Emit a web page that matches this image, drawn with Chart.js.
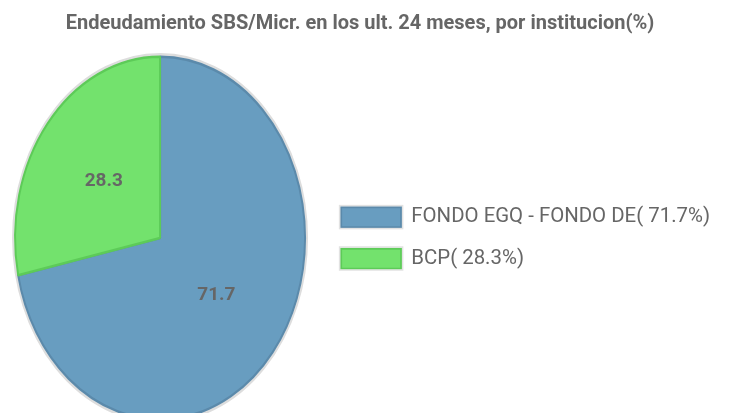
<!DOCTYPE html>
<html>
<head>
<meta charset="utf-8">
<script src="https://cdn.jsdelivr.net/npm/chart.js@4/dist/chart.umd.min.js"></script>
<style>
  html, body { margin: 0; padding: 0; background: #fff; }
  #wrap { width: 729px; height: 413px; position: relative; }
</style>
</head>
<body>
<div id="wrap"><canvas id="chart"></canvas></div>
<script>
const titleText = 'Endeudamiento SBS/Micr. en los ult. 24 meses, por institucion(%)';
const labels = ['FONDO EGQ - FONDO DE', 'BCP'];
const values = [71.7, 28.3];

const fillColors = ['#689dc0', '#73e26d'];
const lineColors = ['#5b8aab', '#5dcb58'];
const textColor = '#666666';
const stretchY = 1.25; // the pie in the picture is an upright ellipse

Chart.defaults.font.family = 'Roboto';

// squash the round pie into an ellipse and write the values on the slices
const ellipsePie = {
	id: 'ellipsePie',
	beforeDatasetsDraw(chart) {
		const arc = chart.getDatasetMeta(0).data[0];
		const ctx = chart.ctx;
		ctx.save();
		ctx.translate(arc.x, arc.y);
		ctx.scale(1, stretchY);
		ctx.translate(-arc.x, -arc.y);
		ctx.beginPath();
		ctx.arc(arc.x, arc.y, arc.outerRadius + 1.5, 0, Math.PI * 2);
		ctx.strokeStyle = '#dddddd';
		ctx.lineWidth = 3;
		ctx.stroke();
	},
	afterDatasetsDraw(chart) {
		const ctx = chart.ctx;
		ctx.restore();
		const meta = chart.getDatasetMeta(0);
		ctx.save();
		ctx.font = 'bold 19px Roboto';
		ctx.fillStyle = textColor;
		ctx.textAlign = 'center';
		ctx.textBaseline = 'middle';
		meta.data.forEach((arc, i) => {
			const p = arc.tooltipPosition();
			const y = arc.y + (p.y - arc.y) * stretchY;
			ctx.fillText(values[i].toFixed(1), p.x, y);
		});
		ctx.restore();
	},
	afterDraw(chart) {
		// light frame around the legend swatches
		const ctx = chart.ctx;
		const opts = chart.options.plugins.legend.labels;
		ctx.save();
		ctx.strokeStyle = '#e2e2e2';
		ctx.lineWidth = 1.5;
		chart.legend.legendHitBoxes.forEach((hb) => {
			ctx.strokeRect(hb.left - 1.5, hb.top - 1.5, opts.boxWidth + 3, opts.boxHeight + 3);
		});
		ctx.restore();
	}
};

new Chart(document.getElementById('chart'), {
	type: 'pie',
	data: {
		labels: labels,
		datasets: [
			{
				data: values,
				backgroundColor: fillColors,
				borderColor: lineColors,
				borderWidth: 2,
				clip: false,
			},
		],
	},
	options: {
		responsive: true,
		maintainAspectRatio: false,
		animation: false,
		layout: { padding: { left: 0, right: 9, top: 0, bottom: 29 } },
		plugins: {
			title: {
				display: true,
				text: titleText,
				color: textColor,
				font: { size: 20, weight: 'bold' },
				padding: { top: 12, bottom: 56 },
			},
			legend: {
				position: 'right',
				fullSize: false,
				maxWidth: 500,
				labels: {
					color: textColor,
					font: { size: 20.4 },
					boxWidth: 60,
					boxHeight: 20,
					padding: 21,
					generateLabels(chart) {
						const items = Chart.overrides.pie.plugins.legend.labels.generateLabels(chart);
						return items.map((it, i) => ({ ...it, text: labels[i] + '( ' + values[i].toFixed(1) + '%)' }));
					},
				},
			},
			tooltip: { enabled: false },
		},
	},
	plugins: [ellipsePie],
});
</script>
</body>
</html>
